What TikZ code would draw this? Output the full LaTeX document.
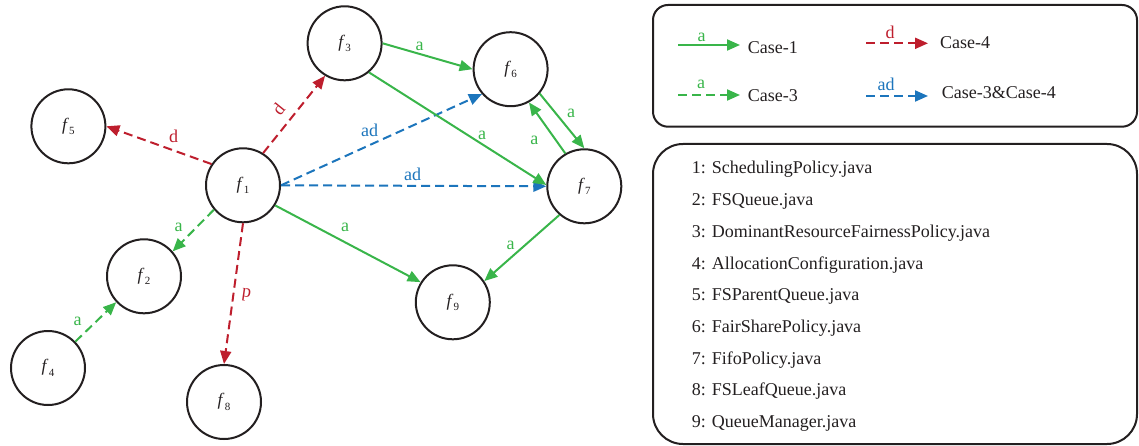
\documentclass[tikz,border=0pt]{standalone}
\usepackage{fontspec}
\setmainfont{Liberation Serif}
\usetikzlibrary{arrows.meta}
\definecolor{cgreen}{RGB}{57,181,74}
\definecolor{cred}{RGB}{190,30,45}
\definecolor{cblue}{RGB}{28,117,188}
\definecolor{cink}{RGB}{35,31,32}
\newcommand{\fsub}[1]{\textit{f}\kern0.2pt\raisebox{-4.5pt}{\fontsize{11}{11}\selectfont #1}}
\begin{document}
\begin{tikzpicture}[x=1pt,y=-1pt,
  fnode/.style={circle, draw=cink, line width=2pt, minimum size=74pt, inner sep=0pt, font=\fontsize{17.5}{17.5}\selectfont, text=cink},
  edge/.style={line width=2pt, -{Triangle[length=13pt,width=11pt]}},
  dsh/.style={dash pattern=on 9pt off 5pt},
  elab/.style={font=\fontsize{18}{18}\selectfont, inner sep=0pt},
  txt/.style={font=\fontsize{18}{18}\selectfont, text=cink, inner sep=0pt, anchor=base west},
  boxline/.style={draw=cink, line width=2pt}]
\useasboundingbox (0,0) rectangle (1139,446);

% nodes
\node[fnode] (f1) at (243,185.3) {\fsub{1}};
\node[fnode] (f2) at (144,276.3) {\fsub{2}};
\node[fnode] (f3) at (344.6,43.3) {\fsub{3}};
\node[fnode] (f4) at (48,368) {\fsub{4}};
\node[fnode] (f5) at (68.4,126.3) {\fsub{5}};
\node[fnode] (f6) at (510.6,69.2) {\fsub{6}};
\node[fnode] (f7) at (584.3,186.3) {\fsub{7}};
\node[fnode] (f8) at (224,402) {\fsub{8}};
\node[fnode] (f9) at (452.8,302.3) {\fsub{9}};

% edges
\draw[edge, dsh, cred] (f1.146) -- (f5.0);
\draw[edge, dsh, cred] (f1.58) -- (f3.-121);
\draw[edge, dsh, cgreen] (f1.-140) -- (f2.41);
\draw[edge, dsh, cgreen] (f4.44) -- (f2.-137);
\draw[edge, dsh, cred] (f1.-90) -- (f8.90);
\draw[edge, cgreen] (f1.-32) -- (f9.148);
\draw[edge, dsh, cblue] (f1.0) -- (f6.-139);
\draw[edge, dsh, cblue] (f1.0) -- (f7.180);
\draw[edge, cgreen] (f3.0) -- (f6.180);
\draw[edge, cgreen] (f3.-50) -- (f7.178);
\draw[edge, cgreen] (f6.-40) -- (f7.90);
\draw[edge, cgreen] (f7.120) -- (f6.-61);
\draw[edge, cgreen] (f7.-131) -- (f9.34);

% edge labels
\node[elab, text=cred] (l15) at (173.6,136.7) {d};
\node[elab, text=cred, rotate=51] (l13) at (278.5,109) {d};
\node[elab, text=cgreen] (l12) at (178.5,227.7) {a};
\node[elab, text=cgreen] (l42) at (77.6,321.7) {a};
\node[elab, text=cred, rotate=172] (l18) at (246.3,295) {d};
\node[elab, text=cgreen] (l19) at (345.2,227.7) {a};
\node[elab, text=cblue] (l16) at (369.7,130) {ad};
\node[elab, text=cblue] (l17) at (412.6,174) {ad};
\node[elab, text=cgreen] (l36) at (419.5,46.7) {a};
\node[elab, text=cgreen] (l37) at (482,135) {a};
\node[elab, text=cgreen] (l67) at (571,113.3) {a};
\node[elab, text=cgreen] (l76) at (534.3,140) {a};
\node[elab, text=cgreen] (l79) at (510.6,245) {a};

% legend box
\draw[boxline, rounded corners=15pt] (653,5) rectangle (1137,126.7);
\coordinate (c1a) at (678,45);   \coordinate (c1b) at (740,45);
\coordinate (c4a) at (866,43.3); \coordinate (c4b) at (928,43.3);
\coordinate (c3a) at (678,95);   \coordinate (c3b) at (740,95);
\coordinate (c34a) at (866,96);  \coordinate (c34b) at (928,96);
\draw[edge, cgreen] (c1a) -- (c1b);
\draw[edge, dsh, cred] (c4a) -- (c4b);
\draw[edge, dsh, cgreen] (c3a) -- (c3b);
\draw[edge, dsh, cblue] (c34a) -- (c34b);
\node[elab, text=cgreen, anchor=base] (lg1) at (701.7,41.7) {a};
\node[elab, text=cred, anchor=base] (lg4) at (890,38.3) {d};
\node[elab, text=cgreen, anchor=base] (lg3) at (701,88.3) {a};
\node[elab, text=cblue, anchor=base] (lg34) at (886,90.7) {ad};
\node[txt] (t1) at (747.7,53.3) {Case-1};
\node[txt] (t4) at (940,49) {Case-4};
\node[txt] (t3) at (747.7,101.7) {Case-3};
\node[txt] (t34) at (941.7,98.3) {Case-3\&Case-4};

% file list box
\draw[boxline, rounded corners=30pt] (653,144) rectangle (1137,444);
\node[txt] (n1) at (691.7,174) {1: SchedulingPolicy.java};
\node[txt] (n2) at (691.7,205.7) {2: FSQueue.java};
\node[txt] (n3) at (691.7,237.4) {3: DominantResourceFairnessPolicy.java};
\node[txt] (n4) at (691.7,269.1) {4: AllocationConfiguration.java};
\node[txt] (n5) at (691.7,300.8) {5: FSParentQueue.java};
\node[txt] (n6) at (691.7,332.5) {6: FairSharePolicy.java};
\node[txt] (n7) at (691.7,364.2) {7: FifoPolicy.java};
\node[txt] (n8) at (691.7,395.9) {8: FSLeafQueue.java};
\node[txt] (n9) at (691.7,427.6) {9: QueueManager.java};
\end{tikzpicture}
\end{document}
